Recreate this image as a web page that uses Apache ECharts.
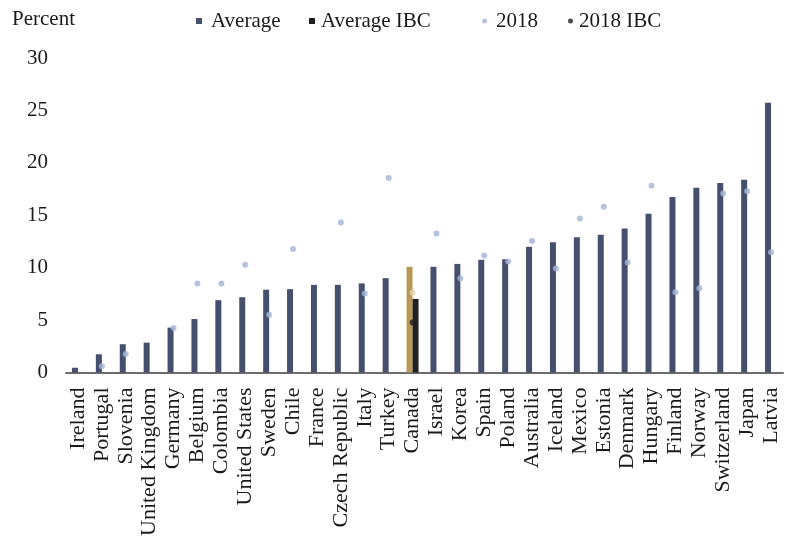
<!DOCTYPE html>
<html>
<head>
<meta charset="utf-8">
<script src="https://cdn.jsdelivr.net/npm/echarts@6/dist/echarts.min.js"></script>
<style>
html,body{margin:0;padding:0;background:#fff;}
#chart{width:793px;height:546px;}
</style>
</head>
<body>
<div id="chart"></div>
<script>
var categories = ['Ireland','Portugal','Slovenia','United Kingdom','Germany','Belgium','Colombia','United States','Sweden','Chile','France','Czech Republic','Italy','Turkey','Canada','Israel','Korea','Spain','Poland','Australia','Iceland','Mexico','Estonia','Denmark','Hungary','Finland','Norway','Switzerland','Japan','Latvia'];
var average = [0.45,1.74,2.7,2.85,4.28,5.1,6.9,7.18,7.9,7.95,8.36,8.36,8.5,9.0,10.08,10.08,10.36,10.75,10.8,11.99,12.43,12.91,13.13,13.74,15.14,16.73,17.62,18.07,18.39,25.74];
var averageIBC = [null,null,null,null,null,null,null,null,null,null,null,null,null,null,7.02,null,null,null,null,null,null,null,null,null,null,null,null,null,null,null];
var y2018 = [null,0.6,1.77,null,4.25,8.5,8.5,10.27,5.5,11.77,null,14.3,7.53,18.55,7.6,13.26,9.0,11.16,10.58,12.55,9.92,14.69,15.8,10.49,17.81,7.66,8.04,17.08,17.3,11.48];
var y2018IBC = [null,null,null,null,null,null,null,null,null,null,null,null,null,null,4.76,null,null,null,null,null,null,null,null,null,null,null,null,null,null,null];
var yTicks = [0,5,10,15,20,25,30];
var highlight = 'Canada';

var FONT = 'Liberation Serif';
var NAVY = '#46506e', GOLD = '#b99a55', BLACK = '#231f20', LIGHT = '#a4b4d4', PALEGOLD = '#e2d3ab';

var avgData = average.map(function(v,i){
  return categories[i] === highlight ? {value:v, itemStyle:{color:GOLD}} : v;
});
var dotData = y2018.map(function(v,i){
  return categories[i] === highlight ? {value:v, itemStyle:{color:PALEGOLD}} : v;
});

function leg(name, left, icon, extra){
  var sz = icon === 'rect' ? 6 : 5;
  return {
    data:[{name:name, icon:icon}], left:left, top:10, padding:0,
    itemWidth:sz, itemHeight:sz,
    textStyle:{fontFamily:FONT, fontSize:21, lineHeight:22, color:'#1a1a1a', padding:[0,0,0,extra]},
    selectedMode:false
  };
}

var chart = echarts.init(document.getElementById('chart'), null, {renderer:'canvas'});
chart.setOption({
  animation:false,
  backgroundColor:'#fff',
  graphic:[{type:'text', x:12, y:19, style:{text:'Percent', fontFamily:FONT, fontSize:21, fill:'#1a1a1a', verticalAlign:'middle', align:'left'}}],
  legend:[leg('Average',196,'rect',4), leg('Average IBC',309,'rect',1), leg('2018',482,'circle',4), leg('2018 IBC',568,'circle',1)],
  grid:{left:66, right:10, top:58, bottom:173.5, containLabel:false},
  xAxis:{
    type:'category', data:categories,
    axisLine:{lineStyle:{color:'#6d6d6d', width:2}},
    axisTick:{show:false},
    axisLabel:{rotate:90, margin:15, interval:0, fontFamily:FONT, fontSize:22, color:'#1a1a1a'}
  },
  yAxis:{
    type:'value', min:yTicks[0], max:yTicks[yTicks.length-1], interval:5,
    splitLine:{show:false}, axisLine:{show:false}, axisTick:{show:false},
    axisLabel:{margin:18, fontFamily:FONT, fontSize:21, color:'#1a1a1a'}
  },
  series:[
    {name:'Average', type:'bar', data:avgData, barWidth:6, barGap:'0%', itemStyle:{color:NAVY}},
    {name:'Average IBC', type:'bar', data:averageIBC, barWidth:6, barGap:'0%', itemStyle:{color:BLACK}},
    {name:'2018', type:'scatter', data:dotData, symbol:'circle', symbolSize:6, itemStyle:{color:LIGHT}},
    {name:'2018 IBC', type:'scatter', data:y2018IBC, symbol:'circle', symbolSize:6, itemStyle:{color:BLACK}}
  ]
});
</script>
</body>
</html>
